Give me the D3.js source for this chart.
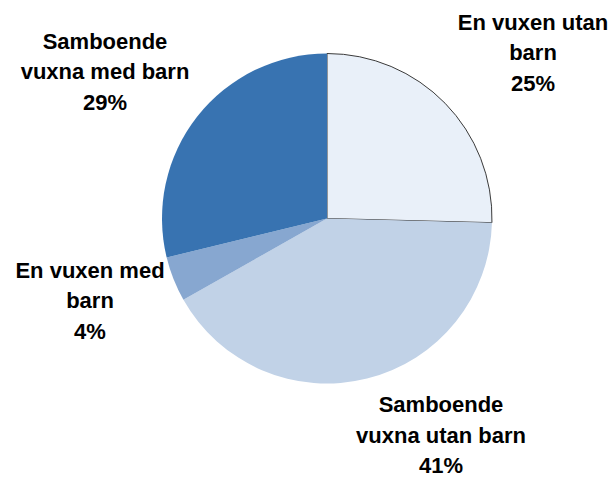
<!DOCTYPE html>
<meta charset="utf-8">
<style>
body { margin: 0; background: #fff; }
.label { font-family: "Liberation Sans", Arial, sans-serif; font-weight: bold; font-size: 22px; fill: #000; }
</style>
<body>
<script src="https://d3js.org/d3.v7.min.js"></script>
<script>

// data, clockwise from 12 o'clock
var categories = ["En vuxen utan barn", "Samboende vuxna utan barn", "En vuxen med barn", "Samboende vuxna med barn"];
var values = [25.4, 41.4, 4.4, 28.8];
var labelLines = [["En vuxen utan", "barn"], ["Samboende", "vuxna utan barn"], ["En vuxen med", "barn"], ["Samboende", "vuxna med barn"]];
var colors = ["#E9F0F9", "#C1D2E7", "#87A7D0", "#3873B1"];

var width = 611, height = 479;
var cx = 327, cy = 218.5, radius = 165;

// where each label block sits (middle line baseline), relative to pie centre
var labelOffset = [[206, -158.5], [114, 224], [-237, 89.5], [-222, -139.5]];
var lineH = 30.5;

var svg = d3.select("body").append("svg")
    .attr("width", width)
    .attr("height", height);

var g = svg.append("g")
    .attr("transform", "translate(" + cx + "," + cy + ")");

var pie = d3.pie().sort(null).value(function(d) { return d; });
var arc = d3.arc().innerRadius(0).outerRadius(radius);

var color = d3.scaleOrdinal().domain(categories).range(colors);

var arcs = pie(values);

g.selectAll("path.slice")
    .data(arcs)
  .enter().append("path")
    .attr("class", "slice")
    .attr("d", arc)
    .attr("fill", function(d, i) { return color(categories[i]); })
    .attr("stroke", function(d, i) { return i === 0 ? "#3a3a3a" : "none"; })
    .attr("stroke-width", 1);

// labels
var lab = svg.selectAll("text.label")
    .data(arcs)
  .enter().append("text")
    .attr("class", "label")
    .attr("text-anchor", "middle")
    .attr("transform", function(d, i) {
      return "translate(" + (cx + labelOffset[i][0]) + "," + (cy + labelOffset[i][1]) + ")";
    });

lab.each(function(d, i) {
  var t = d3.select(this);
  var lines = labelLines[i].concat([Math.round(d.value) + "%"]);
  lines.forEach(function(s, k) {
    t.append("tspan").attr("x", 0).attr("y", (k - 1) * lineH).text(s);
  });
});

</script>
</body>
